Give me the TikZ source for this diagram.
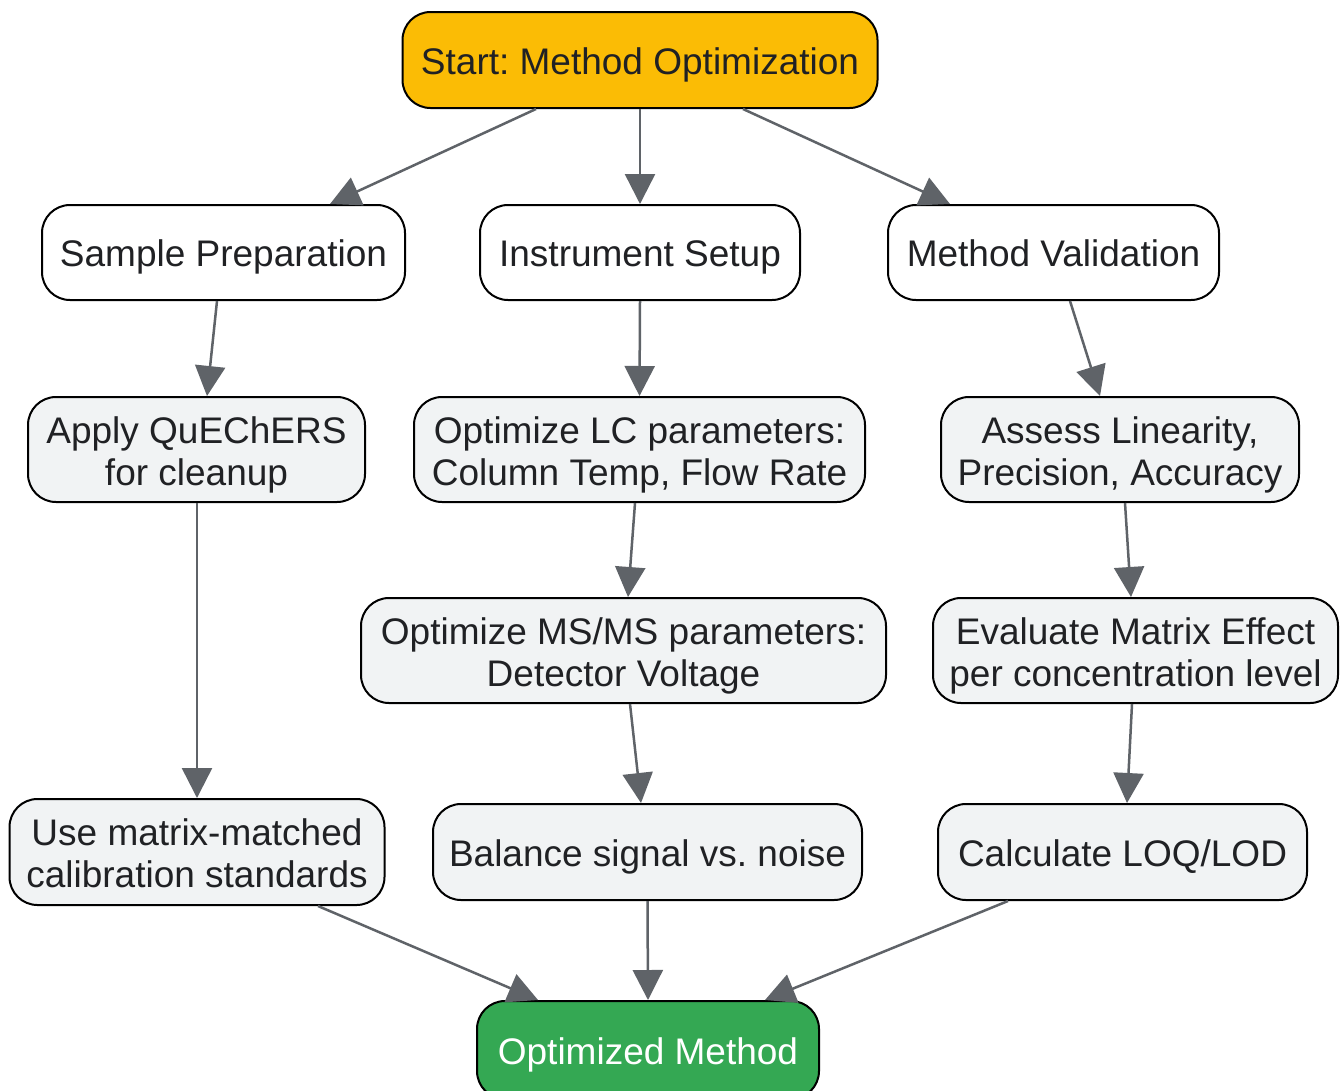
\documentclass[tikz,border=0pt]{standalone}
\usepackage{fontspec}
\setmainfont{Liberation Sans}
\frenchspacing
\usetikzlibrary{arrows.meta}
\definecolor{startc}{HTML}{FBBC05}
\definecolor{stepc}{HTML}{F1F3F4}
\definecolor{endc}{HTML}{34A853}
\definecolor{linec}{HTML}{5F6368}
\definecolor{txtc}{HTML}{202124}
\begin{document}
\begin{tikzpicture}[x=1pt,y=-1pt,
  box/.style={draw=black,line width=2pt,rounded corners=28pt,inner sep=0pt,
    align=center,text=txtc,font=\fontsize{37}{42}\selectfont},
  one/.style={text height=30pt,text depth=2pt},
  two/.style={text height=76pt,text depth=5pt},
  whitebox/.style={box,fill=white},
  graybox/.style={box,fill=stepc},
  link/.style={draw=linec,line width=2.5pt,-{Triangle[length=30pt,width=30pt]}}]
\useasboundingbox (0,0) rectangle (1340,1090);
\fill[white] (0,0) rectangle (1340,1090);
\node[box,one,fill=startc,minimum width=475pt,minimum height=96pt] (start) at (640,60) {Start: Method Optimization};
\node[whitebox,one,minimum width=363pt,minimum height=95pt] (sp) at (223.5,252.5) {Sample Preparation};
\node[whitebox,one,minimum width=320pt,minimum height=95pt] (is) at (640,252.5) {Instrument Setup};
\node[whitebox,one,minimum width=331pt,minimum height=95pt] (mv) at (1053.5,252.5) {Method Validation};
\node[graybox,two,minimum width=337pt,minimum height=105pt] (qu) at (196.5,449.5) {Apply QuEChERS\\for cleanup};
\node[graybox,two,minimum width=451pt,minimum height=105pt] (lc) at (639.5,449.5) {Optimize LC parameters:\\Column Temp, Flow Rate};
\node[graybox,two,minimum width=358pt,minimum height=105pt] (al) at (1120,449.5) {Assess Linearity,\\Precision, Accuracy};
\node[graybox,two,minimum width=525pt,minimum height=105pt] (ms) at (623.5,650.5) {Optimize MS/MS parameters:\\Detector Voltage};
\node[graybox,two,minimum width=405pt,minimum height=105pt] (em) at (1135.5,650.5) {Evaluate Matrix Effect\\per concentration level};
\node[graybox,two,minimum width=375pt,minimum height=106pt] (um) at (197,852) {Use matrix-matched\\calibration standards};
\node[graybox,one,minimum width=429pt,minimum height=96pt] (bs) at (647.5,852) {Balance signal vs. noise};
\node[graybox,one,minimum width=369pt,minimum height=96pt] (cl) at (1122.5,852) {Calculate LOQ/LOD};
\node[box,one,fill=endc,text=white,minimum width=342pt,minimum height=98pt] (om) at (648,1050) {Optimized Method};
\draw[link] ([xshift=-104pt]start.south) -- ([xshift=106.5pt]sp.north);
\draw[link] (start.south) -- (is.north);
\draw[link] ([xshift=103pt]start.south) -- ([xshift=-103.5pt]mv.north);
\draw[link] ([xshift=-6.5pt]sp.south) -- ([xshift=10.5pt]qu.north);
\draw[link] (is.south) -- (lc.north);
\draw[link] ([xshift=16.5pt]mv.south) -- ([xshift=-20pt]al.north);
\draw[link] ([xshift=0.5pt]qu.south) -- (um.north);
\draw[link] ([xshift=-4.5pt]lc.south) -- ([xshift=4.5pt]ms.north);
\draw[link] ([xshift=5pt]al.south) -- ([xshift=-4.5pt]em.north);
\draw[link] ([xshift=6.5pt]ms.south) -- ([xshift=-6.5pt]bs.north);
\draw[link] ([xshift=-3.5pt]em.south) -- ([xshift=4.5pt]cl.north);
\draw[link] ([xshift=121pt]um.south) -- ([xshift=-110pt]om.north);
\draw[link] (bs.south) -- (om.north);
\draw[link] ([xshift=-114.5pt]cl.south) -- ([xshift=117pt]om.north);
\end{tikzpicture}
\end{document}
